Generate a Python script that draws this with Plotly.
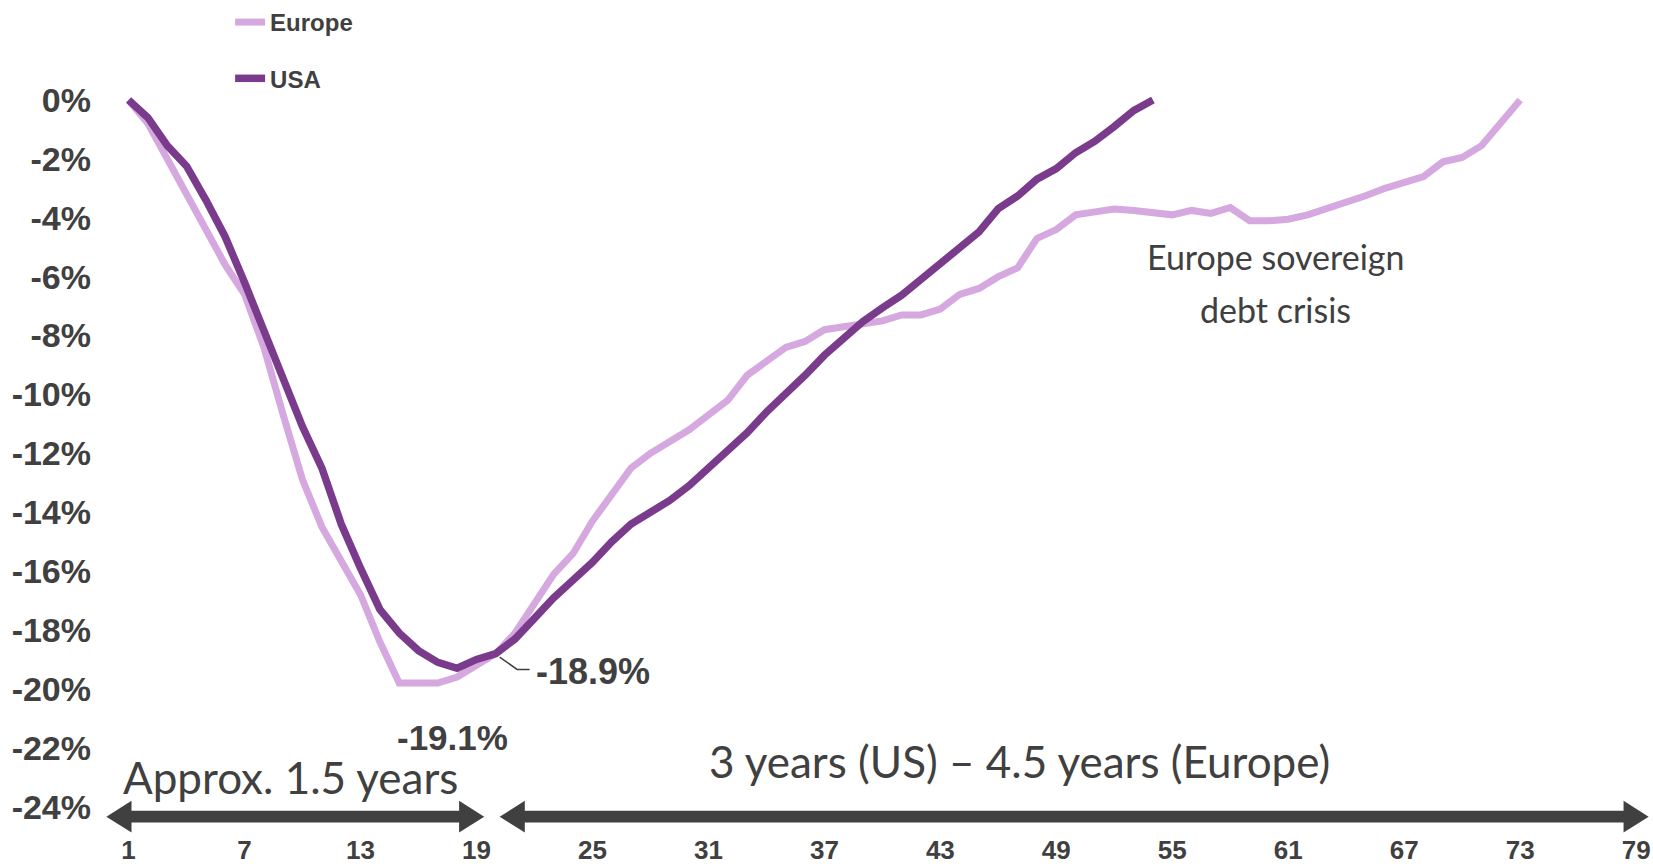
import plotly.graph_objects as go

# ---- data (drawdown in %, by month) ----
europe_months = list(range(1, 74))
europe_values = [
    0.0, -0.8, -2.0, -3.2, -4.4, -5.6, -6.6, -8.4, -10.7, -12.9,
    -14.5, -15.6, -16.8, -18.4, -19.8, -19.8, -19.8, -19.6, -19.2, -18.8,
    -18.1, -17.1, -16.1, -15.4, -14.3, -13.4, -12.5, -12.0, -11.6, -11.2,
    -10.7, -10.2, -9.35, -8.9, -8.4, -8.2, -7.8, -7.7, -7.6, -7.5,
    -7.3, -7.3, -7.1, -6.6, -6.4, -6.0, -5.7, -4.7, -4.4, -3.9,
    -3.8, -3.7, -3.75, -3.8, -3.9, -3.75, -3.85, -3.65, -4.1, -4.1,
    -4.05, -3.9, -3.7, -3.5, -3.25, -3.0, -2.8, -2.6, -2.1, -1.95,
    -1.55, -0.8, 0.0,
]
usa_months = list(range(1, 55))
usa_values = [
    0.0, -0.6, -1.55, -2.25, -3.4, -4.65, -6.2, -7.8, -9.5, -11.1,
    -12.5, -14.4, -15.9, -17.3, -18.1, -18.7, -19.1, -19.3, -19.0, -18.8,
    -18.3, -17.6, -16.9, -16.3, -15.7, -15.0, -14.4, -14.0, -13.6, -13.1,
    -12.5, -11.9, -11.3, -10.6, -10.0, -9.35, -8.67, -8.06, -7.52, -7.06,
    -6.63, -6.09, -5.55, -5.09, -4.48, -3.69, -3.26, -2.69, -2.33, -1.79,
    -1.40, -0.90, -0.36, 0.0,
]

x_tick_vals = list(range(1, 80, 6))
x_tick_text = [str(v) for v in x_tick_vals]
y_tick_vals = list(range(0, -25, -2))
y_tick_text = [f"{v}%" for v in y_tick_vals]

# ---- styling ----
EUROPE_COLOR = "#D6A8E0"
USA_COLOR = "#7B3B8C"
TEXT_COLOR = "#404040"
BOLD_FONT = "Liberation Sans, Arial, sans-serif"
REG_FONT = "Lato, Liberation Sans, sans-serif"

fig = go.Figure()
fig.add_trace(go.Scatter(
    x=europe_months, y=europe_values, mode="lines", name="Europe",
    legendgroup="eu",
    line=dict(color=EUROPE_COLOR, width=7),
))
fig.add_trace(go.Scatter(
    x=usa_months, y=usa_values, mode="lines", name="USA",
    legendgroup="us",
    line=dict(color=USA_COLOR, width=7.5),
))

annotations = [
    dict(x=60.35, y=-5.30, text="Europe sovereign", showarrow=False,
         font=dict(family=REG_FONT, size=34, color=TEXT_COLOR), xanchor="center", yanchor="middle"),
    dict(x=60.35, y=-7.10, text="debt crisis", showarrow=False,
         font=dict(family=REG_FONT, size=34, color=TEXT_COLOR), xanchor="center", yanchor="middle"),
    dict(x=0.6, y=-23.0, text="Approx. 1.5 years", showarrow=False,
         font=dict(family=REG_FONT, size=44, color=TEXT_COLOR), xanchor="left", yanchor="middle"),
    dict(x=47.1, y=-22.45, text="3 years (US) \u2013 4.5 years (Europe)", showarrow=False,
         font=dict(family=REG_FONT, size=44, color=TEXT_COLOR), xanchor="center", yanchor="middle"),
    dict(x=21.95, y=-19.4, text="-18.9%", showarrow=False,
         font=dict(family=BOLD_FONT, size=36, color=TEXT_COLOR, weight="bold"), xanchor="left", yanchor="middle"),
    dict(x=17.75, y=-21.65, text="-19.1%", showarrow=False,
         font=dict(family=BOLD_FONT, size=35, color=TEXT_COLOR, weight="bold"), xanchor="center", yanchor="middle"),
]

# arrows (shaft + heads) in data units
ARW_Y = -24.34
HEAD_LEN = 1.3   # x units
HEAD_HALF = 0.54 # y units
SHAFT_HALF = 0.2

def double_arrow(x0, x1):
    return (f"M{x0},{ARW_Y} L{x0+HEAD_LEN},{ARW_Y+HEAD_HALF} L{x0+HEAD_LEN},{ARW_Y+SHAFT_HALF} "
            f"L{x1-HEAD_LEN},{ARW_Y+SHAFT_HALF} L{x1-HEAD_LEN},{ARW_Y+HEAD_HALF} L{x1},{ARW_Y} "
            f"L{x1-HEAD_LEN},{ARW_Y-HEAD_HALF} L{x1-HEAD_LEN},{ARW_Y-SHAFT_HALF} "
            f"L{x0+HEAD_LEN},{ARW_Y-SHAFT_HALF} L{x0+HEAD_LEN},{ARW_Y-HEAD_HALF} Z")

shapes = [
    dict(type="path", xref="x", yref="y", path=double_arrow(-0.15, 19.4),
         fillcolor=TEXT_COLOR, line=dict(width=0)),
    dict(type="path", xref="x", yref="y", path=double_arrow(20.2, 79.65),
         fillcolor=TEXT_COLOR, line=dict(width=0)),
    dict(type="path", xref="x", yref="y", path="M20.2,-18.92 L21.1,-19.34 L21.75,-19.34",
         line=dict(color=TEXT_COLOR, width=1.5)),
]

fig.update_layout(
    width=1653, height=864,
    margin=dict(l=100, r=2, t=59, b=22, autoexpand=False),
    paper_bgcolor="white", plot_bgcolor="white",
    showlegend=True,
    legend=dict(
        xref="container", yref="container",
        x=0.1392, y=1.0, xanchor="left", yanchor="top",
        traceorder="grouped", tracegroupgap=22,
        font=dict(family=BOLD_FONT, size=24, color=TEXT_COLOR, weight="bold"),
        bgcolor="rgba(0,0,0,0)",
    ),
    xaxis=dict(
        range=[-0.48, 79.77], tickmode="array", tickvals=x_tick_vals, ticktext=x_tick_text,
        showgrid=False, zeroline=False, showline=False, ticks="", automargin=False,
        ticklabeloverflow="allow", ticklabelstandoff=-10,
        tickfont=dict(family=BOLD_FONT, size=26, color=TEXT_COLOR, weight="bold"),
    ),
    yaxis=dict(
        range=[-25.2, 1.393], tickmode="array", tickvals=y_tick_vals, ticktext=y_tick_text,
        showgrid=False, zeroline=False, showline=False, ticks="", automargin=False,
        ticklabelstandoff=8,
        tickfont=dict(family=BOLD_FONT, size=34, color=TEXT_COLOR, weight="bold"),
    ),
    annotations=annotations,
    shapes=shapes,
)

fig.write_html("out.html", config={"displayModeBar": False},
               post_script="document.body.style.margin='0';")
